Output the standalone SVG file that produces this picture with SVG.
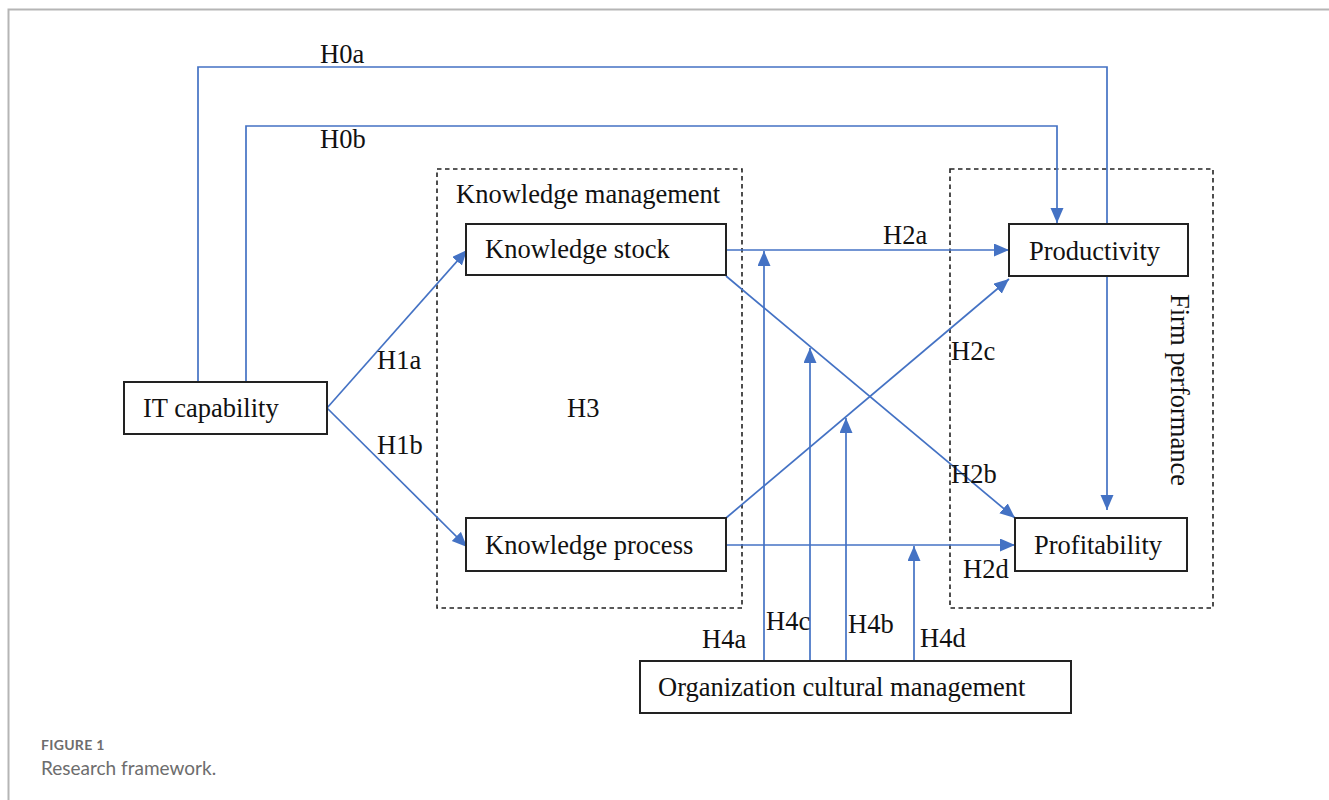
<svg xmlns="http://www.w3.org/2000/svg" width="1329" height="800" viewBox="0 0 1329 800">
<defs>
<marker id="arr" markerUnits="userSpaceOnUse" markerWidth="16" markerHeight="14" refX="15" refY="6.5" orient="auto">
<path d="M0,0 L15,6.5 L0,13 z" fill="#4472C4"/>
</marker>
<style>
.t{font-family:"Liberation Serif","Times New Roman",serif;font-size:26.5px;fill:#111}
.box{fill:#fff;stroke:#222;stroke-width:2}
.dash{fill:none;stroke:#222;stroke-width:1.6;stroke-dasharray:4.5,3.5}
.c{fill:none;stroke:#4472C4;stroke-width:1.7}
.ca{fill:none;stroke:#4472C4;stroke-width:1.7;marker-end:url(#arr)}
</style>
</defs>
<rect width="1329" height="800" fill="#fff"/>
<path d="M8.5,800 V9.5 H1329" fill="none" stroke="#b5b5b5" stroke-width="2"/>

<g id="containers">
<rect class="dash" x="437" y="169" width="305" height="439"/>
<rect class="dash" x="950" y="169" width="263" height="439"/>
<text class="t" x="456" y="203">Knowledge management</text>
<text class="t" transform="translate(1171,390) rotate(90)" text-anchor="middle">Firm performance</text>
</g>

<g id="connectors">
<path class="ca" d="M198,382 V67 H1107 V510"/>
<path class="ca" d="M246,382 V126 H1057 V223"/>
<path class="ca" d="M327,408 L467,250"/>
<path class="ca" d="M327,408 L467,547"/>
<path class="ca" d="M726,250 H1009"/>
<path class="ca" d="M726,276 L1015,518"/>
<path class="ca" d="M726,518 L1009,279"/>
<path class="ca" d="M726,545 H1015"/>
<path class="ca" d="M764,661 V251"/>
<path class="ca" d="M810,661 V348"/>
<path class="ca" d="M846,661 V418"/>
<path class="ca" d="M914,661 V546"/>
</g>

<g id="labels" class="t">
<text class="t" x="320" y="63">H0a</text>
<text class="t" x="320" y="148">H0b</text>
<text class="t" x="377" y="369">H1a</text>
<text class="t" x="377" y="454">H1b</text>
<text class="t" x="567" y="417">H3</text>
<text class="t" x="883" y="244">H2a</text>
<text class="t" x="951" y="360">H2c</text>
<text class="t" x="951" y="483">H2b</text>
<text class="t" x="963" y="578">H2d</text>
<text class="t" x="702" y="648">H4a</text>
<text class="t" x="766" y="630">H4c</text>
<text class="t" x="848" y="633">H4b</text>
<text class="t" x="920" y="647">H4d</text>
</g>

<g id="it-capability">
<rect class="box" x="124" y="382" width="203" height="52"/>
<text class="t" x="143" y="417">IT capability</text>
</g>
<g id="knowledge-stock">
<rect class="box" x="466" y="224" width="260" height="51"/>
<text class="t" x="485" y="258">Knowledge stock</text>
</g>
<g id="knowledge-process">
<rect class="box" x="466" y="518" width="260" height="53"/>
<text class="t" x="485" y="554">Knowledge process</text>
</g>
<g id="productivity">
<rect class="box" x="1009" y="224" width="179" height="52"/>
<text class="t" x="1029" y="260">Productivity</text>
</g>
<g id="profitability">
<rect class="box" x="1015" y="518" width="172" height="53"/>
<text class="t" x="1034" y="554">Profitability</text>
</g>
<g id="org-culture">
<rect class="box" x="640" y="661" width="431" height="52"/>
<text class="t" x="658" y="696">Organization cultural management</text>
</g>

<g id="caption" font-family="Lato,'Open Sans',sans-serif" fill="#6d6d6d">
<text x="41" y="750" font-size="14" font-weight="bold" letter-spacing="0.3">FIGURE 1</text>
<text x="41" y="775" font-size="19">Research framework.</text>
</g>
</svg>
